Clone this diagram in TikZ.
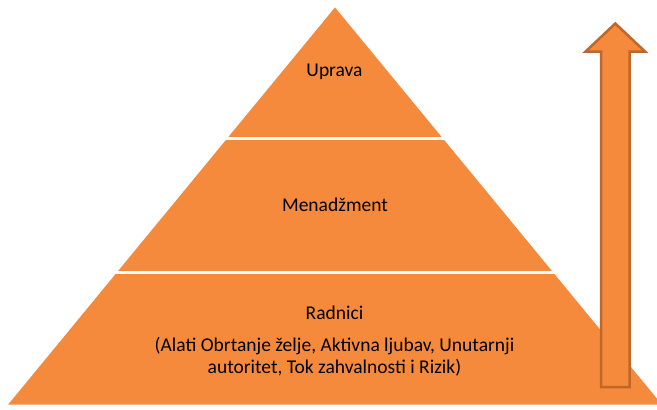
\documentclass[tikz,border=0pt]{standalone}
\usepackage{fontspec}
\setmainfont{Carlito}
\usepackage{xcolor,tikz}
\usetikzlibrary{positioning}
\definecolor{PyrFill}{HTML}{F68A3C}
\definecolor{PyrEdge}{HTML}{C0662A}
\tikzset{x=1pt,y=-1pt,every node/.style={font=\fontsize{19.5}{21.6}\selectfont},
 tier/.style={fill=PyrFill},gap/.style={draw=white,line width=3.4pt},
 level/.style={anchor=base,inner sep=0pt,align=center},
 uparrow/.style={fill=PyrFill,draw=PyrEdge,line width=2.5pt,line join=miter}}
\begin{document}
\begin{tikzpicture}
\useasboundingbox (0,0) rectangle (657,410);
\coordinate (apex) at (335,7.4);
\fill[tier] (apex)--(661.8,404.5)--(8.2,404.5)--cycle;
\draw[gap] (220,138.4)--(450,138.4);
\draw[gap] (110,272.7)--(560,272.7);
\node[level] (uprava) at (334.5,76.7) {Uprava};
\node[level] (menadzment) at (335,211) {Menadžment};
\node[level] (radnici) at (334.5,319) {Radnici};
\node[level] (alati) at (334.5,373.3)
 {(Alati Obrtanje želje, Aktivna ljubav, Unutarnji\\autoritet, Tok zahvalnosti i Rizik)};
\draw[uparrow] (615.3,23.5)--(645,51.5)--(629.5,51.5)--(629.5,387)--(601,387)
 --(601,51.5)--(585.6,51.5)--cycle;
\end{tikzpicture}
\end{document}
